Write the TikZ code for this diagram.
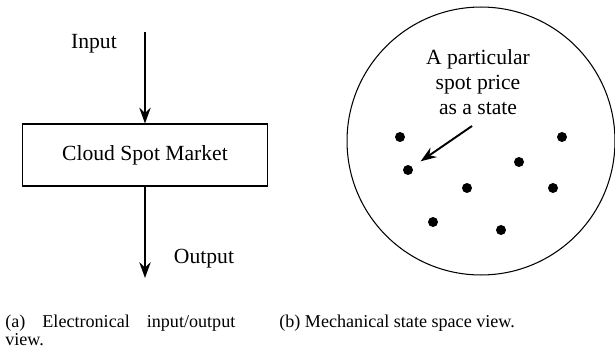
\documentclass[tikz,border=0pt]{standalone}
\usepackage{fontspec}
\setmainfont{Liberation Serif}
\usetikzlibrary{arrows.meta}

\begin{document}
\begin{tikzpicture}[x=0.02cm, y=-0.02cm]
	\tikzstyle{every node} = [font=\fontsize{12.3}{14.2}\selectfont]
	\tikzstyle{flow} = [line width=1.1pt, -{Stealth[length=9pt, width=6.5pt, inset=3pt]}]
	\tikzstyle{state} = [circle, fill=black, inner sep=0pt, minimum size=0.2cm]
	\tikzstyle{caption} = [font=\fontsize{10.3}{10.5}\selectfont, inner sep=0pt]
	\useasboundingbox (0, 0) rectangle (615, 358);
	% (a) input/output view
	\node (market) at (145, 155) [draw, line width=0.6pt, minimum width=4.9cm, minimum height=1.24cm] {Cloud Spot Market};
	\coordinate (in) at (145, 32);
	\coordinate (out) at (145, 278);
	\node (input) at (94, 44) {Input};
	\node (output) at (204, 259) {Output};
	\draw [flow] (in)--(market.north);
	\draw [flow] (market.south)--(out);
	% (b) state space view
	\node (space) at (481, 141) [circle, draw, line width=0.6pt, minimum size=5.36cm] {};
	\node (label) at (478, 82) [align=center] {A particular\\spot price\\as a state};
	\node (s1) at (400, 137) [state] {};
	\node (s2) at (408, 170) [state] {};
	\node (s3) at (467, 188) [state] {};
	\node (s4) at (433, 222) [state] {};
	\node (s5) at (501, 230) [state] {};
	\node (s6) at (519, 162) [state] {};
	\node (s7) at (562, 137) [state] {};
	\node (s8) at (553, 188) [state] {};
	\coordinate (pick) at (472, 126);
	\draw [flow, shorten >=0.2cm] (pick)--(s2);
	% captions
	\node (capa) at (5, 327) [caption, anchor=base west, text width=4.6cm, align=left] {(a)\hfill Electronical\hfill input/output\\view.};
	\node (capb) at (279, 327) [caption, anchor=base west] {(b) Mechanical state space view.};
\end{tikzpicture}
\end{document}
